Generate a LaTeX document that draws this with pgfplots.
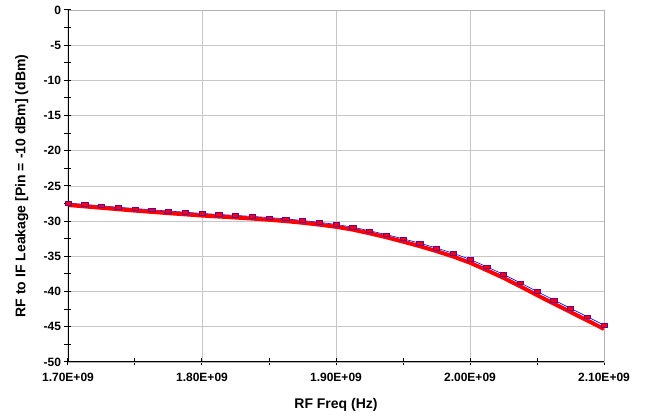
\documentclass[border=0pt]{standalone}
\usepackage{pgfplots}
\pgfplotsset{compat=1.18}
\usepackage{pgfplotstable}
\usepackage{fontspec}
\setmainfont{Liberation Sans}

% measured points (dash markers)
\pgfplotstableread{
f       v
1.7000e9 -27.42
1.7125e9 -27.62
1.7250e9 -27.82
1.7375e9 -28.02
1.7500e9 -28.20
1.7625e9 -28.38
1.7750e9 -28.56
1.7875e9 -28.72
1.8000e9 -28.90
1.8125e9 -29.04
1.8250e9 -29.18
1.8375e9 -29.32
1.8500e9 -29.48
1.8625e9 -29.67
1.8750e9 -29.90
1.8875e9 -30.16
1.9000e9 -30.46
1.9125e9 -30.85
1.9250e9 -31.36
1.9375e9 -31.90
1.9500e9 -32.50
1.9625e9 -33.13
1.9750e9 -33.81
1.9875e9 -34.56
2.0000e9 -35.42
2.0125e9 -36.47
2.0250e9 -37.56
2.0375e9 -38.75
2.0500e9 -39.98
2.0625e9 -41.18
2.0750e9 -42.38
2.0875e9 -43.56
2.1000e9 -44.76
}\meas

% red curve
\pgfplotstableread{
f       v
1.7000e9 -27.70
1.7125e9 -27.90
1.7250e9 -28.10
1.7375e9 -28.30
1.7500e9 -28.50
1.7625e9 -28.68
1.7750e9 -28.86
1.7875e9 -29.03
1.8000e9 -29.20
1.8125e9 -29.34
1.8250e9 -29.48
1.8375e9 -29.63
1.8500e9 -29.80
1.8625e9 -29.99
1.8750e9 -30.22
1.8875e9 -30.49
1.9000e9 -30.80
1.9125e9 -31.20
1.9250e9 -31.72
1.9375e9 -32.28
1.9500e9 -32.90
1.9625e9 -33.55
1.9750e9 -34.25
1.9875e9 -35.02
2.0000e9 -35.90
2.0125e9 -36.95
2.0250e9 -38.05
2.0375e9 -39.25
2.0500e9 -40.50
2.0625e9 -41.70
2.0750e9 -42.90
2.0875e9 -44.10
2.1000e9 -45.30
}\fit

\begin{document}
\begin{tikzpicture}
\path[use as bounding box] (-68pt,-57pt) rectangle (583pt,362pt);
\begin{axis}[
  at={(0,0)}, anchor=south west,
  scale only axis, width=536pt, height=352pt,
  xmin=1.7e9, xmax=2.1e9, ymin=-50, ymax=0,
  scaled x ticks=false,
  xtick={1.7e9,1.8e9,1.9e9,2.0e9,2.1e9},
  xticklabels={1.70E+09,1.80E+09,1.90E+09,2.00E+09,2.10E+09},
  minor xtick={1.75e9,1.85e9,1.95e9,2.05e9},
  ytick={-50,-45,-40,-35,-30,-25,-20,-15,-10,-5,0},
  yticklabels={-50,-45,-40,-35,-30,-25,-20,-15,-10,-5,0},
  minor ytick={-47.5,-42.5,-37.5,-32.5,-27.5,-22.5,-17.5,-12.5,-7.5,-2.5},
  xtick pos=bottom, ytick pos=left,
  tick align=center,
  major tick length=7pt, minor tick length=7pt,
  tick style={black, line width=1pt},
  grid=major,
  major grid style={gray!45, line width=0.8pt},
  axis line style={gray!60, line width=0.8pt},
  ticklabel style={font=\bfseries\fontsize{12}{14}\selectfont},
  xticklabel style={yshift=-4pt},
  xlabel={RF Freq (Hz)},
  ylabel={RF to IF Leakage [Pin = -10 dBm] (dBm)},
  label style={font=\bfseries\fontsize{14}{16}\selectfont},
  xlabel style={at={(axis description cs:0.5,-0.122)}, anchor=center},
  ylabel style={at={(axis description cs:-0.086,0.5)}, anchor=center},
]
\addplot[blue, line width=0.6pt, no marks] table[x=f, y=v] {\meas};
\addplot[red, line width=4pt, no marks] table[x=f, y=v] {\fit};
\addplot[only marks, mark=square*, mark size=2.4pt,
  mark options={xscale=1.3, yscale=0.75, fill=red, draw=blue!60!red, line width=0.4pt}]
  table[x=f, y=v] {\meas};
\draw[black, line width=1.5pt] (rel axis cs:0,1) -- (rel axis cs:0,0) -- (rel axis cs:1,0);
\end{axis}
\end{tikzpicture}
\end{document}
